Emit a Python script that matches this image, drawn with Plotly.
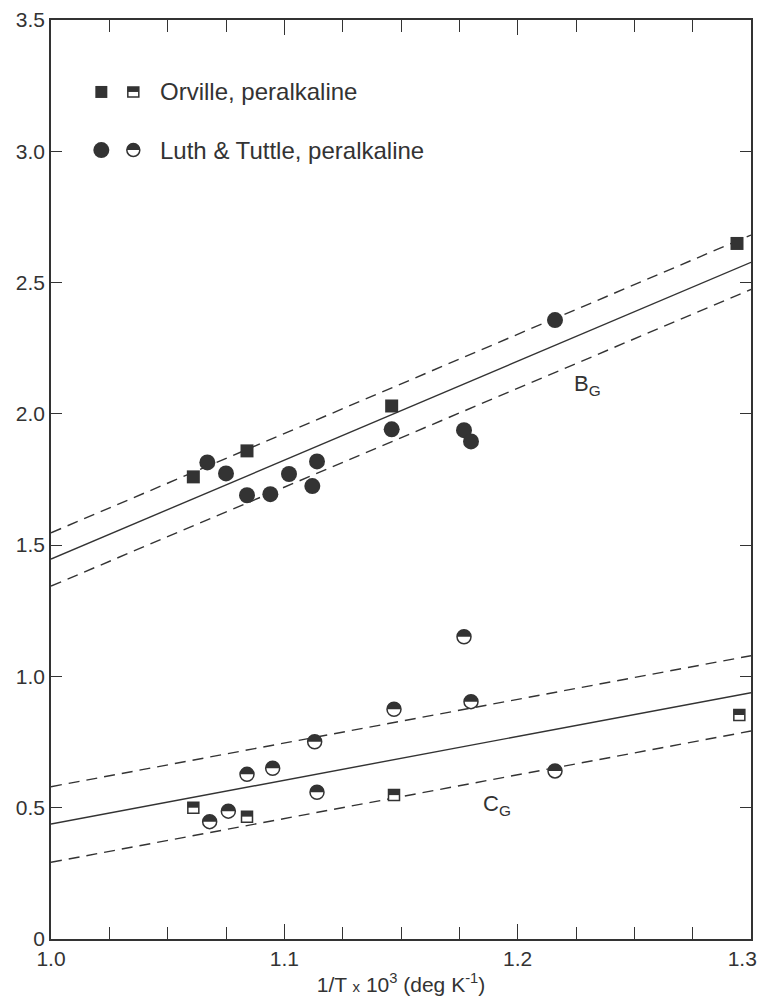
import plotly.graph_objects as go

# ---------------- data ----------------
x_fit = [1.0, 1.3]
bg_fit = [1.447, 2.577]
bg_upper = [1.547, 2.681]
bg_lower = [1.344, 2.474]
cg_fit = [0.438, 0.938]
cg_upper = [0.580, 1.079]
cg_lower = [0.292, 0.792]

orv_bg_x = [1.061, 1.084, 1.146, 1.294]
orv_bg_y = [1.760, 1.859, 2.030, 2.649]
lt_bg_x = [1.067, 1.075, 1.084, 1.094, 1.102, 1.112, 1.114, 1.146, 1.177, 1.180, 1.216]
lt_bg_y = [1.815, 1.773, 1.690, 1.694, 1.771, 1.725, 1.819, 1.941, 1.938, 1.895, 2.357]

orv_cg_x = [1.061, 1.084, 1.147, 1.295]
orv_cg_y = [0.500, 0.466, 0.548, 0.853]
lt_cg_x = [1.068, 1.076, 1.084, 1.095, 1.113, 1.114, 1.147, 1.177, 1.180, 1.216]
lt_cg_y = [0.447, 0.487, 0.627, 0.650, 0.751, 0.559, 0.875, 1.151, 0.904, 0.640]

x_tickvals = [1.0, 1.1, 1.2, 1.3]
x_ticktext = ["1.0", "1.1", "1.2", "1.3\u00a0\u00a0\u00a0"]  # last label kept inside the page
y_tickvals = [0, 0.5, 1.0, 1.5, 2.0, 2.5, 3.0, 3.5]
y_ticktext = ["0", "0.5", "1.0", "1.5", "2.0", "2.5", "3.0", "3.5"]

legend_rows = ["Orville, peralkaline", "Luth & Tuttle, peralkaline"]

# ---------------- style ----------------
INK = "#333333"
FONT = "Liberation Sans"
DASH = "11px,7px"

fig = go.Figure()

# fitted lines
for ys, dash in [(bg_upper, DASH), (bg_fit, "solid"), (bg_lower, DASH),
                 (cg_upper, DASH), (cg_fit, "solid"), (cg_lower, DASH)]:
    fig.add_trace(go.Scatter(x=x_fit, y=ys, mode="lines",
                             line=dict(color=INK, width=1.4, dash=dash),
                             hoverinfo="skip", showlegend=False))

# filled markers (B_G)
fig.add_trace(go.Scatter(x=orv_bg_x, y=orv_bg_y, mode="markers",
                         marker=dict(symbol="square", size=13, color=INK, line=dict(width=0)),
                         showlegend=False))
fig.add_trace(go.Scatter(x=lt_bg_x, y=lt_bg_y, mode="markers",
                         marker=dict(symbol="circle", size=16, color=INK, line=dict(width=0)),
                         showlegend=False))

# half-filled markers (C_G): white body with outline + top half filled
fig.add_trace(go.Scatter(x=orv_cg_x, y=orv_cg_y, mode="markers",
                         marker=dict(symbol="square", size=11, color="white",
                                     line=dict(color=INK, width=1.5)),
                         showlegend=False))
fig.add_trace(go.Scatter(x=lt_cg_x, y=lt_cg_y, mode="markers",
                         marker=dict(symbol="circle", size=14, color="white",
                                     line=dict(color=INK, width=1.5)),
                         showlegend=False))

R = 7.0
K = 0.5523 * R
HALF_CIRCLE = f"M{-R},0 C{-R},{K} {-K},{R} 0,{R} C{K},{R} {R},{K} {R},0 Z"
S = 5.5
HALF_SQUARE = f"M{-S},0 L{-S},{S} L{S},{S} L{S},0 Z"

shapes = []
for xs, ys, path in [(orv_cg_x, orv_cg_y, HALF_SQUARE), (lt_cg_x, lt_cg_y, HALF_CIRCLE)]:
    for xv, yv in zip(xs, ys):
        shapes.append(dict(type="path", xref="x", yref="y", xsizemode="pixel", ysizemode="pixel",
                           xanchor=xv, yanchor=yv, path=path, fillcolor=INK,
                           line=dict(width=0), layer="above"))

# legend (drawn manually, as in the original figure)
leg_x_full = 0.0719
leg_x_half = 0.1176
leg_x_text = 0.1530
leg_y = [0.9217, 0.8585]
# row 1 : squares
shapes.append(dict(type="rect", xref="paper", yref="paper", xsizemode="pixel", ysizemode="pixel",
                   xanchor=leg_x_full, yanchor=leg_y[0], x0=-6, x1=6, y0=-6, y1=6,
                   fillcolor=INK, line=dict(width=0)))
shapes.append(dict(type="rect", xref="paper", yref="paper", xsizemode="pixel", ysizemode="pixel",
                   xanchor=leg_x_half, yanchor=leg_y[0], x0=-5.5, x1=5.5, y0=-5, y1=5,
                   fillcolor="white", line=dict(color=INK, width=1.5)))
shapes.append(dict(type="path", xref="paper", yref="paper", xsizemode="pixel", ysizemode="pixel",
                   xanchor=leg_x_half, yanchor=leg_y[0], path="M-5.5,0 L-5.5,5 L5.5,5 L5.5,0 Z",
                   fillcolor=INK, line=dict(width=0)))
# row 2 : circles
shapes.append(dict(type="circle", xref="paper", yref="paper", xsizemode="pixel", ysizemode="pixel",
                   xanchor=leg_x_full, yanchor=leg_y[1], x0=-8, x1=8, y0=-8, y1=8,
                   fillcolor=INK, line=dict(width=0)))
shapes.append(dict(type="circle", xref="paper", yref="paper", xsizemode="pixel", ysizemode="pixel",
                   xanchor=leg_x_half, yanchor=leg_y[1], x0=-6.5, x1=6.5, y0=-6.5, y1=6.5,
                   fillcolor="white", line=dict(color=INK, width=1.5)))
r2 = 6.5
k2 = 0.5523 * r2
shapes.append(dict(type="path", xref="paper", yref="paper", xsizemode="pixel", ysizemode="pixel",
                   xanchor=leg_x_half, yanchor=leg_y[1],
                   path=f"M{-r2},0 C{-r2},{k2} {-k2},{r2} 0,{r2} C{k2},{r2} {r2},{k2} {r2},0 Z",
                   fillcolor=INK, line=dict(width=0)))

annotations = []
for txt, yv in zip(legend_rows, leg_y):
    annotations.append(dict(text=txt, xref="paper", yref="paper", x=leg_x_text, y=yv,
                            xanchor="left", yanchor="middle", showarrow=False,
                            font=dict(family=FONT, size=24, color=INK)))
annotations.append(dict(text="B<sub>G</sub>", xref="x", yref="y", x=1.230, y=2.11,
                        showarrow=False, font=dict(family=FONT, size=22, color=INK)))
annotations.append(dict(text="C<sub>G</sub>", xref="x", yref="y", x=1.191, y=0.51,
                        showarrow=False, font=dict(family=FONT, size=22, color=INK)))

# the page body adds an 8 px offset; keep the page within the 765x1005 window
fig.update_layout(
    width=757, height=989,
    margin=dict(l=43, r=14, t=12, b=58),
    paper_bgcolor="white", plot_bgcolor="white",
    font=dict(family=FONT, color=INK, size=20),
    shapes=shapes, annotations=annotations,
    showlegend=False,
)
fig.update_xaxes(
    range=[1.0, 1.3], tickvals=x_tickvals, ticktext=x_ticktext,
    showgrid=False, zeroline=False, automargin=False, ticklabeloverflow="allow",
    showline=True, linecolor=INK, linewidth=1.5, mirror="ticks",
    ticks="inside", ticklen=15, tickwidth=1.3, tickcolor=INK,
    minor=dict(dtick=0.025, ticks="inside", ticklen=12, tickwidth=1.2, tickcolor=INK, showgrid=False),
    tickfont=dict(family=FONT, size=21, color=INK),
    title=dict(text="1/T <span style='font-size:15px'>x</span> 10<sup>3</sup> (deg K<sup>-1</sup>)",
               font=dict(family=FONT, size=21, color=INK), standoff=8),
)
fig.update_yaxes(
    range=[0, 3.5], tickvals=y_tickvals, ticktext=y_ticktext,
    showgrid=False, zeroline=False, automargin=False, ticklabeloverflow="allow",
    showline=True, linecolor=INK, linewidth=1.5, mirror="ticks",
    ticks="inside", ticklen=11, tickwidth=1.3, tickcolor=INK,
    tickfont=dict(family=FONT, size=21, color=INK),
)

fig.write_html("out.html")
